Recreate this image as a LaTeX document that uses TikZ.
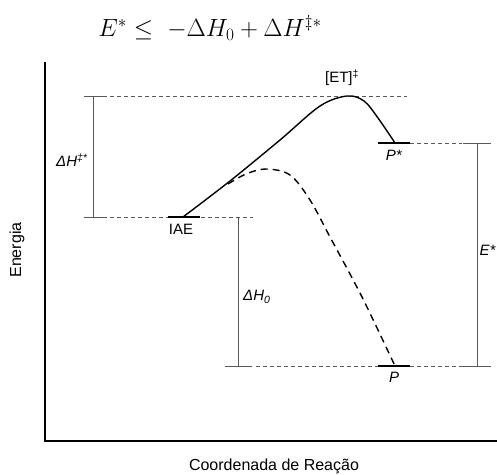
\documentclass[tikz,border=0pt]{standalone}
\usepackage{amsmath}
\usepackage{amssymb}
\usepackage{fontspec}
\setmainfont{Liberation Sans}
\usetikzlibrary{arrows.meta, calc}

\begin{document}
\begin{tikzpicture}[x=1pt, y=-1pt,
  level/.style={line width=1.3pt},
  guide/.style={black!65, dash pattern=on 4pt off 3pt, line width=0.6pt},
  bracket/.style={black!65, line width=0.8pt},
  lbl/.style={font=\fontsize{15}{17}\selectfont, inner sep=0pt},
  axlbl/.style={font=\fontsize{16}{18}\selectfont, inner sep=0pt}]
  \useasboundingbox (0,0) rectangle (497,474);
  % energy levels
  \coordinate (ts)    at (347,96);
  \coordinate (iae)   at (183,217);
  \coordinate (pstar) at (395,143);
  \coordinate (prod)  at (395,366);
  % formula
  \node[font=\fontsize{26}{30}\selectfont] (formula) at (210,28)
    {$E^{*} \leq\ -\Delta H_0 + \Delta H^{\ddagger *}$};
  % axes
  \draw[line width=1.3pt] (45,62) -- (45,441) -- (497,441);
  \node[axlbl, rotate=90] (energia) at (17,250) {Energia};
  \node[axlbl] (coord) at (274,466) {Coordenada de Reação};
  % dashed guide lines
  \draw[guide] (103,96) -- (407,96);
  \draw[guide] (103,217) -- (253,217);
  \draw[guide] (410,143) -- (462,143);
  \draw[guide] (256,366) -- (462,366);
  % brackets
  \draw[bracket] (84,96) -- (103,96) (93,96) -- (93,217) (84,217) -- (103,217);
  \draw[bracket] (238,217) -- (238,366) (225,366) -- (252,366);
  \draw[bracket] (463,143) -- (491,143) (477,143) -- (477,366) (462,366) -- (491,366);
  % level marks
  \draw[level] ($(iae)+(-15,0)$) -- ($(iae)+(17,0)$);
  \draw[level] ($(pstar)+(-17,0)$) -- ($(pstar)+(15,0)$);
  \draw[level] ($(prod)+(-17,0)$) -- ($(prod)+(15,0)$);
  % reaction paths
  \draw[line width=1.4pt] plot[smooth, tension=0.55] coordinates
    {(iae) (230,181) (280,140) (320,106) (ts) (364,101) (378,118) (pstar)};
  \draw[line width=1.4pt, dash pattern=on 7pt off 5pt] plot[smooth, tension=0.55] coordinates
    {(228,184) (246,174) (266,169) (290,175) (310,200) (330,237) (362,297) (prod)};
  % labels
  \node[lbl] (lts) at (342,78) {[ET]\textsuperscript{‡}};
  \node[lbl] (liae) at (181,229) {IAE};
  \node[lbl] (lpstar) at (394,155) {\textit{P*}};
  \node[lbl] (lprod) at (394,377) {\textit{P}};
  \node[lbl] (ldht) at (72,160) {\textit{ΔH}\textsuperscript{\textit{‡*}}};
  \node[lbl, anchor=west] (ldh0) at (243,297) {\textit{ΔH}\textsubscript{\textit{0}}};
  \node[lbl, anchor=east] (lestar) at (496,250) {\textit{E*}};
\end{tikzpicture}
\end{document}
